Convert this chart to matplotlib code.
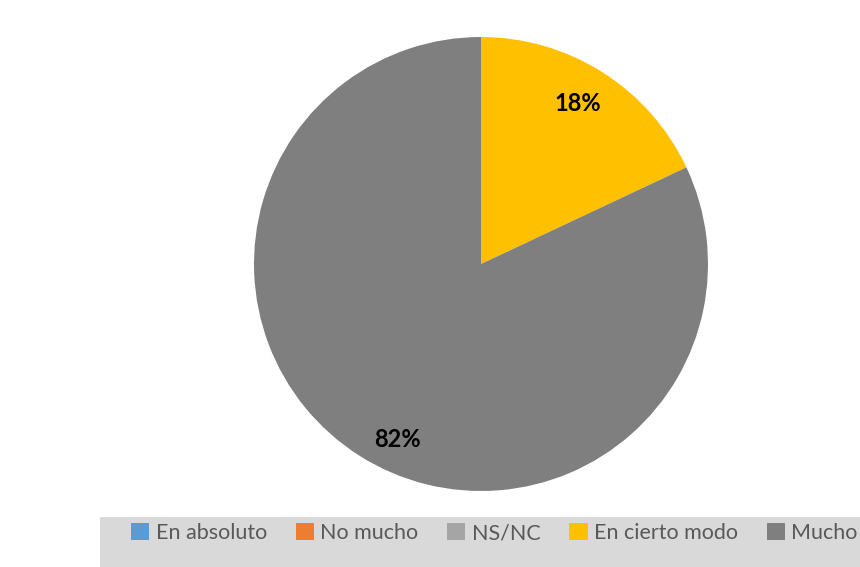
import matplotlib
matplotlib.use("Agg")
import matplotlib.pyplot as plt
from matplotlib.patches import Rectangle, Patch

categories = ["En absoluto", "No mucho", "NS/NC", "En cierto modo", "Mucho"]
values = [0, 0, 0, 18, 82]
colors = ["#5b9bd5", "#ed7d31", "#a5a5a5", "#ffc000", "#7f7f7f"]
# label positions (relative to pie radius) as Excel placed them
label_pos = {3: (0.427, 0.705), 4: (-0.370, -0.775)}

plt.rcParams['font.family'] = ['Lato', 'DejaVu Sans']

W, H = 860, 567
fig = plt.figure(figsize=(W / 100, H / 100), dpi=100)
fig.patch.set_facecolor("white")

cx, cy, r = 481, 264, 227
ax = fig.add_axes([(cx - r) / W, (H - cy - r) / H, 2 * r / W, 2 * r / H])

def fmt(p):
    return f"{p:.0f}%" if p > 0.5 else ""

wedges, texts, autotexts = ax.pie(
    values, colors=colors, startangle=90, counterclock=False,
    autopct=fmt, pctdistance=0.84, radius=1.0,
    wedgeprops=dict(linewidth=0),
    textprops=dict(fontsize=17, fontweight="bold", color="#000000"),
)
for i, pos in label_pos.items():
    autotexts[i].set_position(pos)
ax.set_xlim(-1, 1)
ax.set_ylim(-1, 1)
ax.set_aspect("equal")
ax.axis("off")

# legend background
fig.patches.append(Rectangle((100 / W, 0), 1, (H - 517) / H,
                             transform=fig.transFigure, facecolor="#d9d9d9",
                             edgecolor="none", zorder=0))

handles = [Patch(facecolor=c, edgecolor="none") for c in colors]
leg = fig.legend(handles, categories, loc="center left",
                 bbox_to_anchor=(131 / W, 1 - 533 / H), ncol=5,
                 frameon=False, fontsize=15.5, handlelength=0.85, handleheight=0.85,
                 handletextpad=0.3, columnspacing=1.33, borderaxespad=0,
                 borderpad=0)
for t in leg.get_texts():
    t.set_color("#595959")

fig.savefig("out.png", dpi=100)
